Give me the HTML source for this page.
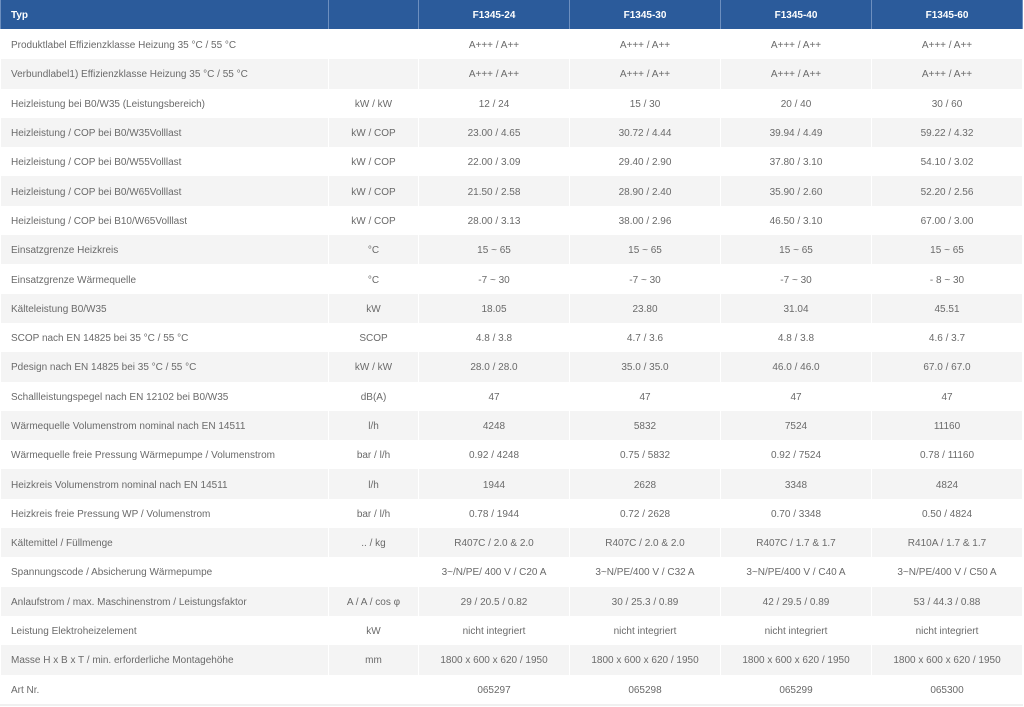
<!DOCTYPE html>
<html><head><meta charset="utf-8"><style>
body{margin:0;background:#fff;width:1024px;height:707px;overflow:hidden}
table{border-collapse:collapse;width:1022px;table-layout:fixed;font-family:"Liberation Sans",sans-serif;font-size:10px;color:#6a6a6a;border-bottom:2px solid #f0f0f0}
td,th{padding:0 10px;border-left:1px solid #fff;border-right:1px solid #fff;white-space:nowrap;overflow:hidden}
td{height:27.3px;padding-top:2px}
th{background:#2b5b9b;color:#fff;font-weight:bold;height:28px;padding-top:1px;border-bottom:1px solid #fff;border-left:1px solid #6d8fbf;border-right:1px solid #6d8fbf;text-align:center}
th:first-child{text-align:left}
td{text-align:center}
td:first-child{text-align:left}
tr:nth-child(odd) td{background:#f4f4f4}
</style></head><body>
<table>
<colgroup><col style="width:328px"><col style="width:90px"><col style="width:151px"><col style="width:151px"><col style="width:151px"><col style="width:151px"></colgroup>
<tr><th>Typ</th><th></th><th>F1345-24</th><th>F1345-30</th><th>F1345-40</th><th>F1345-60</th></tr>
<tr><td>Produktlabel Effizienzklasse Heizung 35 °C / 55 °C</td><td></td><td>A+++ / A++</td><td>A+++ / A++</td><td>A+++ / A++</td><td>A+++ / A++</td></tr>
<tr><td>Verbundlabel1) Effizienzklasse Heizung 35 °C / 55 °C</td><td></td><td>A+++ / A++</td><td>A+++ / A++</td><td>A+++ / A++</td><td>A+++ / A++</td></tr>
<tr><td>Heizleistung bei B0/W35 (Leistungsbereich)</td><td>kW / kW</td><td>12 / 24</td><td>15 / 30</td><td>20 / 40</td><td>30 / 60</td></tr>
<tr><td>Heizleistung / COP bei B0/W35Volllast</td><td>kW / COP</td><td>23.00 / 4.65</td><td>30.72 / 4.44</td><td>39.94 / 4.49</td><td>59.22 / 4.32</td></tr>
<tr><td>Heizleistung / COP bei B0/W55Volllast</td><td>kW / COP</td><td>22.00 / 3.09</td><td>29.40 / 2.90</td><td>37.80 / 3.10</td><td>54.10 / 3.02</td></tr>
<tr><td>Heizleistung / COP bei B0/W65Volllast</td><td>kW / COP</td><td>21.50 / 2.58</td><td>28.90 / 2.40</td><td>35.90 / 2.60</td><td>52.20 / 2.56</td></tr>
<tr><td>Heizleistung / COP bei B10/W65Volllast</td><td>kW / COP</td><td>28.00 / 3.13</td><td>38.00 / 2.96</td><td>46.50 / 3.10</td><td>67.00 / 3.00</td></tr>
<tr><td>Einsatzgrenze Heizkreis</td><td>°C</td><td>15 ~ 65</td><td>15 ~ 65</td><td>15 ~ 65</td><td>15 ~ 65</td></tr>
<tr><td>Einsatzgrenze Wärmequelle</td><td>°C</td><td>-7 ~ 30</td><td>-7 ~ 30</td><td>-7 ~ 30</td><td>- 8 ~ 30</td></tr>
<tr><td>Kälteleistung B0/W35</td><td>kW</td><td>18.05</td><td>23.80</td><td>31.04</td><td>45.51</td></tr>
<tr><td>SCOP nach EN 14825 bei 35 °C / 55 °C</td><td>SCOP</td><td>4.8 / 3.8</td><td>4.7 / 3.6</td><td>4.8 / 3.8</td><td>4.6 / 3.7</td></tr>
<tr><td>Pdesign nach EN 14825 bei 35 °C / 55 °C</td><td>kW / kW</td><td>28.0 / 28.0</td><td>35.0 / 35.0</td><td>46.0 / 46.0</td><td>67.0 / 67.0</td></tr>
<tr><td>Schallleistungspegel nach EN 12102 bei B0/W35</td><td>dB(A)</td><td>47</td><td>47</td><td>47</td><td>47</td></tr>
<tr><td>Wärmequelle Volumenstrom nominal nach EN 14511</td><td>l/h</td><td>4248</td><td>5832</td><td>7524</td><td>11160</td></tr>
<tr><td>Wärmequelle freie Pressung Wärmepumpe / Volumenstrom</td><td>bar / l/h</td><td>0.92 / 4248</td><td>0.75 / 5832</td><td>0.92 / 7524</td><td>0.78 / 11160</td></tr>
<tr><td>Heizkreis Volumenstrom nominal nach EN 14511</td><td>l/h</td><td>1944</td><td>2628</td><td>3348</td><td>4824</td></tr>
<tr><td>Heizkreis freie Pressung WP / Volumenstrom</td><td>bar / l/h</td><td>0.78 / 1944</td><td>0.72 / 2628</td><td>0.70 / 3348</td><td>0.50 / 4824</td></tr>
<tr><td>Kältemittel / Füllmenge</td><td>.. / kg</td><td>R407C / 2.0 &amp; 2.0</td><td>R407C / 2.0 &amp; 2.0</td><td>R407C / 1.7 &amp; 1.7</td><td>R410A / 1.7 &amp; 1.7</td></tr>
<tr><td>Spannungscode / Absicherung Wärmepumpe</td><td></td><td>3~/N/PE/ 400 V / C20 A</td><td>3~N/PE/400 V / C32 A</td><td>3~N/PE/400 V / C40 A</td><td>3~N/PE/400 V / C50 A</td></tr>
<tr><td>Anlaufstrom / max. Maschinenstrom / Leistungsfaktor</td><td>A / A / cos φ</td><td>29 / 20.5 / 0.82</td><td>30 / 25.3 / 0.89</td><td>42 / 29.5 / 0.89</td><td>53 / 44.3 / 0.88</td></tr>
<tr><td>Leistung Elektroheizelement</td><td>kW</td><td>nicht integriert</td><td>nicht integriert</td><td>nicht integriert</td><td>nicht integriert</td></tr>
<tr><td>Masse H x B x T / min. erforderliche Montagehöhe</td><td>mm</td><td>1800 x 600 x 620 / 1950</td><td>1800 x 600 x 620 / 1950</td><td>1800 x 600 x 620 / 1950</td><td>1800 x 600 x 620 / 1950</td></tr>
<tr><td>Art Nr.</td><td></td><td>065297</td><td>065298</td><td>065299</td><td>065300</td></tr>
</table>
</body></html>
